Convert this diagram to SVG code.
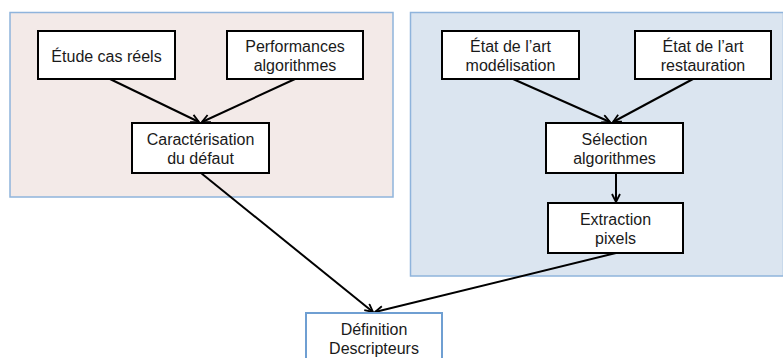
<svg xmlns="http://www.w3.org/2000/svg" width="783" height="358" viewBox="0 0 783 358">
<style>
.panel{stroke:#8fb4dc;stroke-width:1.5}
.box{fill:#fff;stroke:#000;stroke-width:2}
.bbox{fill:#fff;stroke:#6f9fd2;stroke-width:2}
text{font-family:"Liberation Sans",Arial,sans-serif;font-size:16px;fill:#1a1a1a;text-anchor:middle}
.c{stroke:#000;stroke-width:2;fill:none;marker-end:url(#ah)}
</style>
<defs>
<marker id="ah" viewBox="0 0 10 10" refX="9" refY="5" markerWidth="10" markerHeight="10" markerUnits="userSpaceOnUse" orient="auto">
<path d="M1,1 L9,5 L1,9" fill="none" stroke="#000" stroke-width="1.8"/>
</marker>
</defs>
<rect class="panel" x="10" y="12.5" width="383" height="184.5" fill="#f3eae8"/>
<rect class="panel" x="410.5" y="12.5" width="373" height="263.5" fill="#dbe5f0"/>
<g id="connectors">
<line class="c" x1="110" y1="79" x2="199" y2="122"/>
<line class="c" x1="295" y1="79" x2="202" y2="122"/>
<line class="c" x1="513" y1="79" x2="610" y2="122"/>
<line class="c" x1="693" y1="79" x2="613" y2="122"/>
<line class="c" x1="616" y1="173" x2="616" y2="202"/>
<line class="c" x1="201" y1="173" x2="373" y2="312"/>
<line class="c" x1="616" y1="253" x2="375" y2="312"/>
</g>
<g id="etude"><rect class="box" x="38" y="31" width="137" height="48"/><text x="106.5" y="62">Étude cas réels</text></g>
<g id="perf"><rect class="box" x="227" y="31" width="136" height="48"/><text x="295" y="52">Performances</text><text x="295" y="71">algorithmes</text></g>
<g id="carac"><rect class="box" x="132" y="123" width="137" height="50"/><text x="200.5" y="145">Caractérisation</text><text x="200.5" y="164">du défaut</text></g>
<g id="modelisation"><rect class="box" x="442" y="31" width="137" height="48"/><text x="510.5" y="52">État de l’art</text><text x="510.5" y="71">modélisation</text></g>
<g id="restauration"><rect class="box" x="635" y="31" width="136" height="48"/><text x="703" y="52">État de l’art</text><text x="703" y="71">restauration</text></g>
<g id="selection"><rect class="box" x="546" y="123" width="137" height="50"/><text x="614.5" y="145">Sélection</text><text x="614.5" y="164">algorithmes</text></g>
<g id="extraction"><rect class="box" x="548" y="203" width="135" height="50"/><text x="615.5" y="225">Extraction</text><text x="615.5" y="244">pixels</text></g>
<g id="definition"><rect class="bbox" x="306" y="313" width="136" height="60"/><text x="374" y="335">Définition</text><text x="374" y="354">Descripteurs</text></g>
</svg>
